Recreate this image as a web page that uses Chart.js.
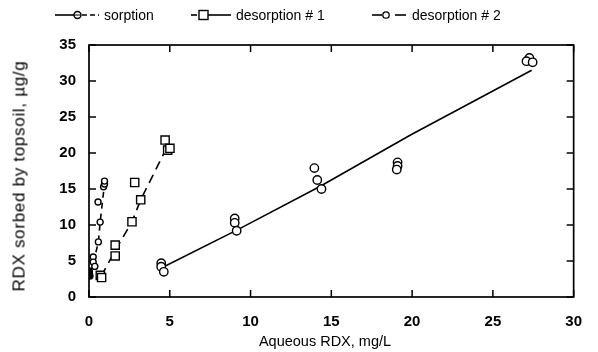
<!DOCTYPE html>
<html>
<head>
<meta charset="utf-8">
<script src="https://cdn.jsdelivr.net/npm/chart.js@4.4.1/dist/chart.umd.min.js"></script>
<style>
  html, body { margin: 0; padding: 0; background: #fff; }
  #wrap { position: relative; width: 598px; height: 352px; }
  #chart { position: absolute; left: 0; top: 0; }
  .item { position: absolute; top: 6px; height: 18px; display: flex; align-items: center;
          white-space: nowrap; font: 14px "Liberation Sans", Arial, sans-serif; color: #000; }
  .item svg { display: block; margin-right: 5px; }
  .axis-title { position: absolute; white-space: nowrap; line-height: 1; color: #000;
                font-family: "Liberation Sans", Arial, sans-serif; transform: translate(-50%, -50%); }
  #xTitle { left: 325px; top: 341px; font-size: 14.5px; }
  #yTitle { left: 19px; top: 176px; font-size: 17px; letter-spacing: 0.7px;
            transform: translate(-50%, -50%) rotate(-90deg); }
</style>
</head>
<body>
<div id="wrap">
  <canvas id="chart" width="598" height="352"></canvas>
  <div class="item" style="left:55px">
    <svg width="44" height="12"><line x1="0" y1="6" x2="19" y2="6" stroke="#000" stroke-width="1.6"/><circle cx="22.5" cy="6" r="3.5" fill="#fff" stroke="#000" stroke-width="1.4"/><line x1="19" y1="6" x2="26" y2="6" stroke="#000" stroke-width="1"/><line x1="27" y1="6" x2="44" y2="6" stroke="#000" stroke-width="1.6" stroke-dasharray="5 3"/></svg>
    <span>sorption</span>
  </div>
  <div class="item" style="left:191px">
    <svg width="40" height="12"><line x1="0" y1="6" x2="6" y2="6" stroke="#000" stroke-width="1.6"/><rect x="8" y="1.5" width="9" height="9" fill="#fff" stroke="#000" stroke-width="1.4"/><line x1="17" y1="6" x2="40" y2="6" stroke="#000" stroke-width="1.6"/></svg>
    <span>desorption # 1</span>
  </div>
  <div class="item" style="left:372px">
    <svg width="35" height="12"><line x1="0" y1="6" x2="10" y2="6" stroke="#000" stroke-width="1.6"/><circle cx="14" cy="6" r="3.2" fill="#fff" stroke="#000" stroke-width="1.3"/><line x1="23" y1="6" x2="34" y2="6" stroke="#000" stroke-width="1.6"/></svg>
    <span>desorption # 2</span>
  </div>
  <div class="axis-title" id="xTitle">Aqueous RDX, mg/L</div>
  <div class="axis-title" id="yTitle">RDX sorbed by topsoil, µg/g</div>
</div>
<script>
// Sorption isotherm measurements (aqueous mg/L vs sorbed µg/g)
const sorptionX = [4.47, 4.47, 4.63, 9.02, 9.02, 9.14, 13.95, 14.13, 14.39, 19.1, 19.1, 19.05, 27.26, 27.08, 27.46];
const sorptionY = [4.7, 4.2, 3.5, 10.9, 10.3, 9.2, 17.9, 16.25, 15.0, 18.7, 18.2, 17.7, 33.2, 32.75, 32.6];
// Fitted sorption curve
const sorptionFitX = [4.57, 9.18, 14.29, 19.9, 27.4];
const sorptionFitY = [4.13, 9.32, 15.34, 22.5, 31.5];

// First desorption step
const desorb1X = [0.7, 0.78, 1.62, 1.62, 2.66, 2.83, 3.2, 4.71, 4.87, 5.01];
const desorb1Y = [3.0, 2.7, 7.2, 5.7, 10.45, 15.9, 13.5, 21.8, 20.4, 20.65];
const desorb1FitX = [0.76, 1.62, 2.66, 3.2, 4.87];
const desorb1FitY = [2.9, 6.45, 10.45, 13.5, 21.0];

// Second desorption step
const desorb2X = [0.02, 0.03, 0.06, 0.26, 0.26, 0.36, 0.58, 0.69, 0.56, 0.9, 0.96, 0.96];
const desorb2Y = [3.6, 3.2, 2.9, 5.55, 4.85, 4.25, 7.65, 10.4, 13.2, 15.3, 15.7, 16.1];
const desorb2FitX = [0.03, 0.3, 0.58, 0.69, 0.8, 0.96];
const desorb2FitY = [3.3, 5.0, 7.65, 10.4, 12.6, 15.7];

// Axis ticks
const xTicks = [0, 5, 10, 15, 20, 25, 30];
const yTicks = [0, 5, 10, 15, 20, 25, 30, 35];

const pts = (xs, ys) => xs.map((x, i) => ({ x, y: ys[i] }));
const FONT = '"Liberation Sans", Arial, sans-serif';

// Boxed frame with inward tick marks on all four sides
const frameTicks = {
  id: 'frameTicks',
  beforeDatasetsDraw(chart) {
    const { ctx, chartArea: a, scales: { x, y } } = chart;
    ctx.save();
    ctx.strokeStyle = '#000';
    ctx.lineWidth = 1.7;
    ctx.strokeRect(a.left, a.top, a.right - a.left, a.bottom - a.top);
    const len = 7;
    ctx.lineWidth = 1.5;
    ctx.beginPath();
    xTicks.forEach(v => {
      const px = x.getPixelForValue(v);
      ctx.moveTo(px, a.bottom); ctx.lineTo(px, a.bottom - len);
      ctx.moveTo(px, a.top); ctx.lineTo(px, a.top + len);
    });
    yTicks.forEach(v => {
      const py = y.getPixelForValue(v);
      ctx.moveTo(a.left, py); ctx.lineTo(a.left + len, py);
      ctx.moveTo(a.right, py); ctx.lineTo(a.right - len, py);
    });
    ctx.stroke();
    ctx.restore();
  }
};

const marker = (data, style, r, fillFn) => ({
  type: 'scatter', data, showLine: false, order: 0,
  pointStyle: style, pointRadius: r, pointHoverRadius: r,
  pointBackgroundColor: fillFn || '#fff', pointBorderColor: '#000', pointBorderWidth: 1.4
});
const fit = (data, dash) => ({
  type: 'scatter', data, showLine: true, order: 1, pointRadius: 0,
  borderColor: '#000', borderWidth: 1.6, borderDash: dash, tension: 0, fill: false
});

new Chart(document.getElementById('chart'), {
  type: 'scatter',
  data: {
    datasets: [
      fit(pts(sorptionFitX, sorptionFitY), []),
      fit(pts(desorb1FitX, desorb1FitY), [9, 6]),
      fit(pts(desorb2FitX, desorb2FitY), [6, 5]),
      marker(pts(sorptionX, sorptionY), 'circle', 4.2),
      marker(pts(desorb1X, desorb1Y), 'rect', 5.8),
      // overlapping replicates on the y axis merge into a dark blob
      marker(pts(desorb2X, desorb2Y), 'circle', 3.0, c => (c.raw && c.raw.x < 0.1) ? '#000' : '#fff')
    ]
  },
  options: {
    responsive: false,
    animation: false,
    events: [],
    layout: { padding: { top: 45, right: 10, bottom: 0, left: 0 } },
    plugins: { legend: { display: false }, tooltip: { enabled: false } },
    scales: {
      x: {
        type: 'linear', min: 0, max: 30,
        afterBuildTicks: s => { s.ticks = xTicks.map(v => ({ value: v })); },
        afterFit: s => { s.height = 55; },
        grid: { display: false, drawTicks: false },
        border: { display: false },
        ticks: { padding: 16, color: '#000', font: { family: FONT, size: 15, weight: 'bold' } }
      },
      y: {
        type: 'linear', min: 0, max: 35,
        afterBuildTicks: s => { s.ticks = yTicks.map(v => ({ value: v })); },
        afterFit: s => { s.width = 89; },
        grid: { display: false, drawTicks: false },
        border: { display: false },
        ticks: { padding: 13, color: '#000', font: { family: FONT, size: 15, weight: 'bold' } }
      }
    }
  },
  plugins: [frameTicks]
});
</script>
</body>
</html>
